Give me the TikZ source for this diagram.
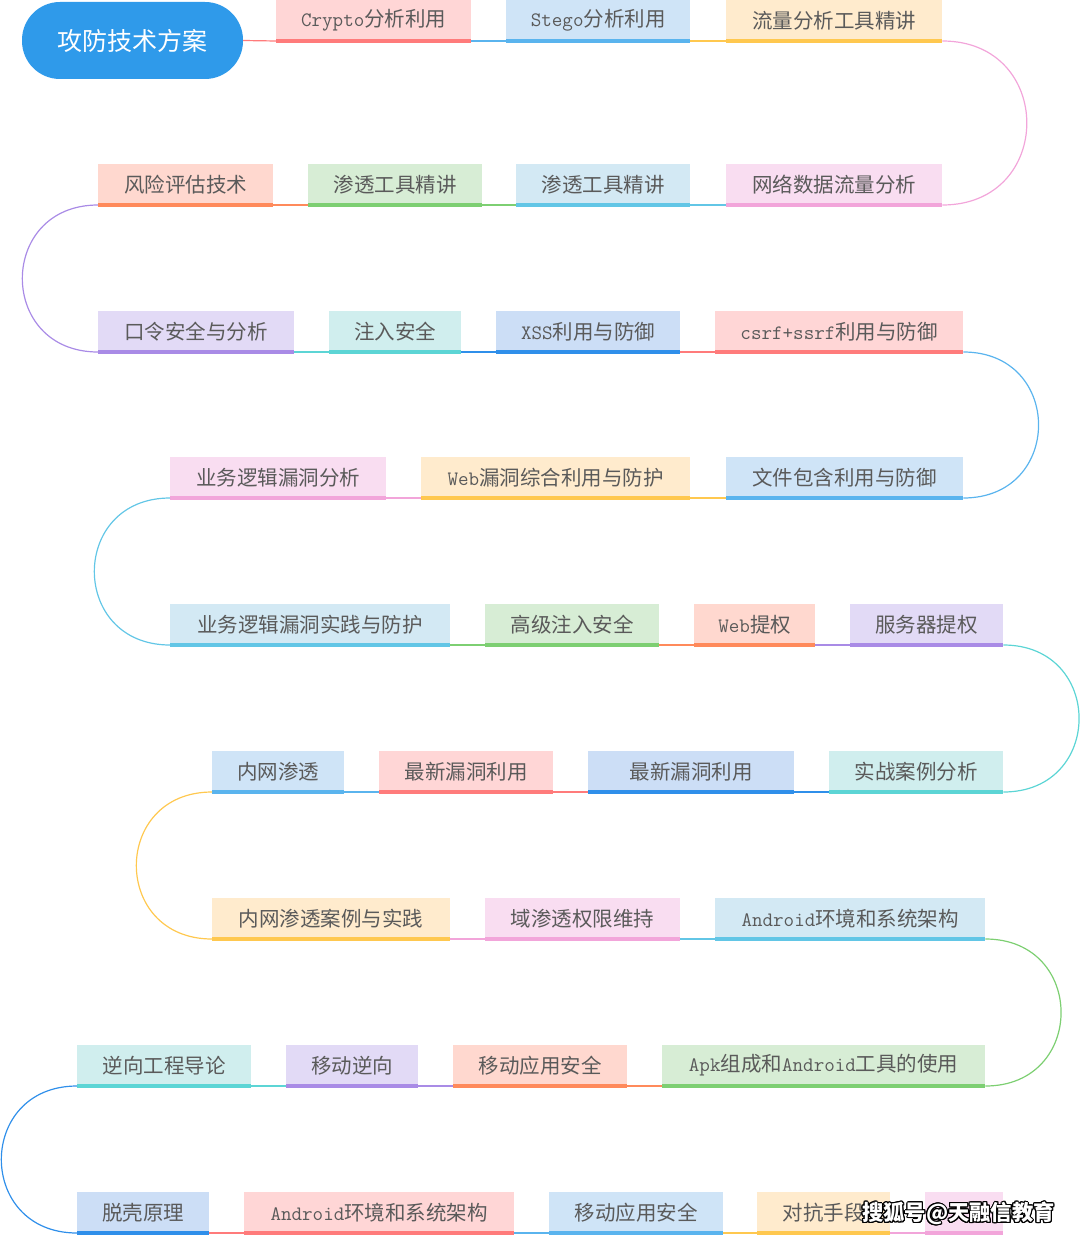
\documentclass[tikz,border=0pt]{standalone}
\usepackage{fontspec}
\setmainfont{Noto Sans CJK SC}
\usepackage{contour}
\contourlength{1.1pt}

\definecolor{redF}{HTML}{FFD6D6}   \definecolor{redL}{HTML}{FF7B7B}
\definecolor{blueF}{HTML}{CFE4F7}  \definecolor{blueL}{HTML}{5AB4EE}
\definecolor{yelF}{HTML}{FFEBCD}   \definecolor{yelL}{HTML}{FFC84F}
\definecolor{magF}{HTML}{F9DDF1}   \definecolor{magL}{HTML}{F2A5DA}
\definecolor{cyanF}{HTML}{D3E9F4}  \definecolor{cyanL}{HTML}{62C6E6}
\definecolor{greenF}{HTML}{D7EDD5} \definecolor{greenL}{HTML}{7DCF72}
\definecolor{orgF}{HTML}{FFD8CF}   \definecolor{orgL}{HTML}{FF8A5B}
\definecolor{purF}{HTML}{E2DAF6}   \definecolor{purL}{HTML}{A98BE6}
\definecolor{tealF}{HTML}{D0EEEE}  \definecolor{tealL}{HTML}{5CD5D5}
\definecolor{xblF}{HTML}{CCDEF6}   \definecolor{xblL}{HTML}{2F8FEA}
\definecolor{rootblue}{HTML}{2F9AEA}
\definecolor{txt}{HTML}{5A5A5A}

\newcommand{\tagfont}{\fontsize{20.5pt}{24pt}\selectfont}

\begin{document}
\begin{tikzpicture}[x=1pt,y=-1pt,
  root/.style={fill=rootblue,text=white,rounded corners=38pt,minimum width=221pt,
    minimum height=77pt,inner sep=0pt,font=\fontsize{25pt}{30pt}\selectfont},
  tag/.style={fill=#1F,minimum height=41pt,inner sep=0pt,anchor=south west,
    text=txt,font=\tagfont,
    append after command={(\tikzlastnode.south west) edge[#1L,line width=3.5pt]
      (\tikzlastnode.south east)}},
  link/.style={#1L,line width=1.2pt},
  uturn/.style={looseness=1.76}]
  \useasboundingbox (0,0) rectangle (1080,1236);

  \node[root] (root) at (132.5,40.5) {攻防技术方案};

  % row 1
  \node[tag=red,minimum width=195pt] (crypto) at (276,41) {\texttt{Crypto}分析利用};
  \node[tag=blue,minimum width=184pt] (stego) at (506,41) {\texttt{Stego}分析利用};
  \node[tag=yel,minimum width=216pt] (flow) at (726,41) {流量分析工具精讲};
  % row 2
  \node[tag=mag,minimum width=216pt] (netflow) at (726,205) {网络数据流量分析};
  \node[tag=cyan,minimum width=174pt] (pentoolB) at (516,205) {渗透工具精讲};
  \node[tag=green,minimum width=174pt] (pentoolA) at (308,205) {渗透工具精讲};
  \node[tag=org,minimum width=175pt] (risk) at (98,205) {风险评估技术};
  % row 3
  \node[tag=pur,minimum width=196pt] (passwd) at (98,352) {口令安全与分析};
  \node[tag=teal,minimum width=132pt] (inject) at (329,352) {注入安全};
  \node[tag=xbl,minimum width=184pt] (xss) at (496,352) {\texttt{XSS}利用与防御};
  \node[tag=red,minimum width=248pt] (csrf) at (715,352) {\texttt{csrf+ssrf}利用与防御};
  % row 4
  \node[tag=blue,minimum width=237pt] (fileinc) at (726,498) {文件包含利用与防御};
  \node[tag=yel,minimum width=269pt] (webvul) at (421,498) {\texttt{Web}漏洞综合利用与防护};
  \node[tag=mag,minimum width=216pt] (logicA) at (170,498) {业务逻辑漏洞分析};
  % row 5
  \node[tag=cyan,minimum width=280pt] (logicB) at (170,645) {业务逻辑漏洞实践与防护};
  \node[tag=green,minimum width=174pt] (advinj) at (485,645) {高级注入安全};
  \node[tag=org,minimum width=121pt] (webpriv) at (694,645) {\texttt{Web}提权};
  \node[tag=pur,minimum width=153pt] (srvpriv) at (850,645) {服务器提权};
  % row 6
  \node[tag=teal,minimum width=174pt] (cases) at (829,792) {实战案例分析};
  \node[tag=xbl,minimum width=206pt] (vulnB) at (588,792) {最新漏洞利用};
  \node[tag=red,minimum width=174pt] (vulnA) at (379,792) {最新漏洞利用};
  \node[tag=blue,minimum width=132pt] (intra) at (212,792) {内网渗透};
  % row 7
  \node[tag=yel,minimum width=238pt] (intracase) at (212,939) {内网渗透案例与实践};
  \node[tag=mag,minimum width=195pt] (domain) at (485,939) {域渗透权限维持};
  \node[tag=cyan,minimum width=270pt] (androidA) at (715,939) {\texttt{Android}环境和系统架构};
  % row 8
  \node[tag=green,minimum width=323pt] (apk) at (662,1086) {\texttt{Apk}组成和\texttt{Android}工具的使用};
  \node[tag=org,minimum width=174pt] (mobsecA) at (453,1086) {移动应用安全};
  \node[tag=pur,minimum width=132pt] (mobrev) at (286,1086) {移动逆向};
  \node[tag=teal,minimum width=174pt] (revintro) at (77,1086) {逆向工程导论};
  % row 9
  \node[tag=xbl,minimum width=132pt] (unpack) at (77,1233) {脱壳原理};
  \node[tag=red,minimum width=270pt] (androidB) at (244,1233) {\texttt{Android}环境和系统架构};
  \node[tag=blue,minimum width=174pt] (mobsecB) at (549,1233) {移动应用安全};
  \node[tag=yel,minimum width=133pt] (counter) at (757,1233) {对抗手段};
  \node[tag=mag,minimum width=78pt] (last) at (925,1233) {};

  % connectors, coloured like the box they lead to
  \draw[link=red] (root.east) -- (crypto.south west);
  \draw[link=blue] (crypto.south east) -- (stego.south west);
  \draw[link=yel] (stego.south east) -- (flow.south west);
  \draw[link=mag] (flow.south east) to[out=0,in=0,uturn] (netflow.south east);
  \draw[link=cyan] (netflow.south west) -- (pentoolB.south east);
  \draw[link=green] (pentoolB.south west) -- (pentoolA.south east);
  \draw[link=org] (pentoolA.south west) -- (risk.south east);
  \draw[link=pur] (risk.south west) to[out=180,in=180,uturn] (passwd.south west);
  \draw[link=teal] (passwd.south east) -- (inject.south west);
  \draw[link=xbl] (inject.south east) -- (xss.south west);
  \draw[link=red] (xss.south east) -- (csrf.south west);
  \draw[link=blue] (csrf.south east) to[out=0,in=0,uturn] (fileinc.south east);
  \draw[link=yel] (fileinc.south west) -- (webvul.south east);
  \draw[link=mag] (webvul.south west) -- (logicA.south east);
  \draw[link=cyan] (logicA.south west) to[out=180,in=180,uturn] (logicB.south west);
  \draw[link=green] (logicB.south east) -- (advinj.south west);
  \draw[link=org] (advinj.south east) -- (webpriv.south west);
  \draw[link=pur] (webpriv.south east) -- (srvpriv.south west);
  \draw[link=teal] (srvpriv.south east) to[out=0,in=0,uturn] (cases.south east);
  \draw[link=xbl] (cases.south west) -- (vulnB.south east);
  \draw[link=red] (vulnB.south west) -- (vulnA.south east);
  \draw[link=blue] (vulnA.south west) -- (intra.south east);
  \draw[link=yel] (intra.south west) to[out=180,in=180,uturn] (intracase.south west);
  \draw[link=mag] (intracase.south east) -- (domain.south west);
  \draw[link=cyan] (domain.south east) -- (androidA.south west);
  \draw[link=green] (androidA.south east) to[out=0,in=0,uturn] (apk.south east);
  \draw[link=org] (apk.south west) -- (mobsecA.south east);
  \draw[link=pur] (mobsecA.south west) -- (mobrev.south east);
  \draw[link=teal] (mobrev.south west) -- (revintro.south east);
  \draw[link=xbl] (revintro.south west) to[out=180,in=180,uturn] (unpack.south west);
  \draw[link=red] (unpack.south east) -- (androidB.south west);
  \draw[link=blue] (androidB.south east) -- (mobsecB.south west);
  \draw[link=yel] (mobsecB.south east) -- (counter.south west);
  \draw[link=mag] (counter.south east) -- (last.south west);

  % watermark
  \node[anchor=west,inner sep=0pt,font=\fontsize{21.3pt}{25pt}\selectfont\bfseries]
    (mark) at (862,1214) {\contour{black}{\textcolor{white}{搜狐号@天融信教育}}};
\end{tikzpicture}
\end{document}
